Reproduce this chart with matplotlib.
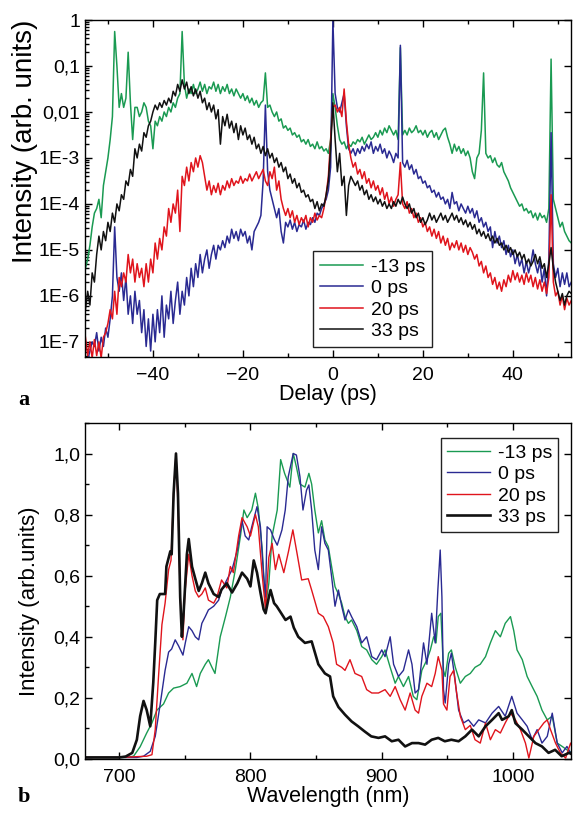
import numpy as np
import matplotlib
matplotlib.use("Agg")
import matplotlib.pyplot as plt
from matplotlib.ticker import FixedLocator, FixedFormatter, MultipleLocator, LogLocator, NullFormatter

plt.rcParams['font.family'] = ['Liberation Sans', 'DejaVu Sans']
plt.rcParams['font.size'] = 14

labels = ['-13 ps', '0 ps', '20 ps', '33 ps']
colors = ['#1a9a52', '#2a2a92', '#e0141c', '#111111']

# ---- panel a: delay scan, log10 of intensity on a 0.5 ps grid from -55 to 53 ps
delay = np.arange(-55, 53.01, 0.5)

log_m13 = [
    -5.4, -5.2, -4.9, -4.5, -4.2, -4.1, -3.9, -4.3, -3.6, -3.3,
    -3.0, -2.6, -2.1, -0.25, -1.0, -1.9, -1.6, -1.9, -1.7, -0.7,
    -1.8, -2.6, -1.9, -1.9, -2.1, -2.0, -1.8, -1.9, -2.2, -2.3,
    -2.8, -2.2, -2.3, -2.1, -2.2, -2.0, -2.1, -1.9, -2.0, -1.8,
    -1.9, -1.7, -1.6, -0.25, -1.4, -1.7, -1.5, -1.6, -1.4, -1.6,
    -1.5, -1.35, -1.55, -1.4, -1.6, -1.45, -1.5, -1.35, -1.55, -1.4,
    -1.6, -1.45, -1.55, -1.4, -1.6, -1.5, -1.65, -1.5, -1.6, -1.7,
    -1.6, -1.75, -1.65, -1.8, -1.7, -1.85, -1.75, -1.9, -1.8, -1.75,
    -1.15, -1.9, -1.85, -2.0, -2.1, -2.0, -2.2, -2.15, -2.35, -2.3,
    -2.4, -2.35, -2.5, -2.45, -2.55, -2.5, -2.65, -2.6, -2.7, -2.6,
    -2.75, -2.7, -2.8, -2.65, -2.8, -2.75, -2.85, -2.8, -2.9, -2.6,
    -1.6, -1.9, -2.3, -2.6, -2.7, -2.65, -2.8, -2.7, -2.75, -2.65,
    -2.7, -2.6, -2.65, -2.55, -2.7, -2.6, -2.5, -2.6, -2.55, -2.45,
    -2.55, -2.4, -2.5, -2.35, -2.45, -2.3, -2.4, -2.5, -2.4, -2.6,
    -0.6, -2.5, -2.4, -2.5, -2.35, -2.45, -2.4, -2.3, -2.45, -2.4,
    -2.5, -2.4, -2.55, -2.45, -2.4, -2.55, -2.45, -2.6, -2.5, -2.4,
    -2.35, -2.55, -2.7, -2.9, -2.7, -2.85, -2.75, -2.9, -2.8, -2.95,
    -2.85, -3.0, -3.3, -3.45, -3.0, -2.9, -2.4, -1.15, -2.9, -3.0,
    -2.95, -3.1, -3.0, -3.15, -3.2, -3.1, -3.3, -3.4, -3.5, -3.65,
    -3.75, -3.85, -3.95, -4.05, -4.0, -4.15, -4.1, -4.2, -4.15, -4.3,
    -4.2, -4.35, -4.2, -4.3, -4.25, -4.4, -4.1, -0.85, -3.9, -4.1,
    -4.3, -4.5, -4.4, -4.6, -4.7, -4.8, -4.85,
]

log_0 = [
    -7.5, -7.4, -7.2, -7.0, -7.1, -6.8, -7.2, -6.9, -7.1, -6.7,
    -6.9, -6.5, -6.0, -4.5, -5.6, -5.9, -5.5, -6.1, -5.6, -6.4,
    -6.0, -6.6, -5.9, -6.4, -6.1, -6.8, -6.3, -7.1, -6.5, -7.2,
    -6.4, -7.0, -6.3, -6.8, -6.0, -6.9, -6.2, -6.5, -5.9, -6.6,
    -6.1, -5.7, -6.4, -5.9, -6.2, -5.6, -6.0, -5.4, -5.8, -5.3,
    -5.6, -5.1, -5.5, -5.2, -5.0, -5.4, -5.1, -4.9, -5.2, -4.9,
    -5.0, -4.8, -4.95, -4.7, -4.85, -4.55, -4.75, -4.6, -4.8, -4.55,
    -4.7, -4.6, -4.85, -4.7, -5.0, -4.6, -4.5, -4.4, -4.25, -3.5,
    -1.85, -3.3, -3.7, -3.9, -4.1, -4.3, -4.1, -4.6, -4.85, -4.4,
    -4.5, -4.35, -4.55, -4.4, -4.6, -4.45, -4.5, -4.35, -4.55, -4.4,
    -4.45, -4.3, -4.4, -4.2, -4.25, -4.1, -4.0, -3.9, -3.7, -3.2,
    0.0, -1.6, -1.9, -2.0, -1.8, -1.6, -2.3, -2.8, -2.9, -2.8,
    -2.95, -2.8, -2.9, -2.75, -2.85, -2.7, -2.8, -2.65, -2.9, -2.75,
    -2.85, -2.7, -2.9, -2.8, -3.0, -2.85, -2.95, -3.1, -2.9, -3.0,
    -0.55, -3.1, -3.2, -3.05, -3.25, -3.15, -3.35, -3.25, -3.45, -3.4,
    -3.55, -3.5, -3.65, -3.6, -3.75, -3.7, -3.85, -3.75, -3.9, -3.85,
    -4.0, -3.9, -4.1, -3.75, -4.0, -3.95, -4.15, -4.0, -4.1, -4.2,
    -4.05, -4.2, -4.1, -4.3, -4.15, -4.4, -4.3, -4.5, -4.4, -4.6,
    -4.5, -4.95, -4.6, -4.85, -4.7, -4.95, -4.8, -5.1, -4.9, -5.15,
    -5.0, -5.3, -5.1, -5.35, -5.2, -5.5, -5.25, -5.5, -5.3, -5.0,
    -5.3, -5.5, -5.25, -5.7, -5.4, -6.0, -5.2, -2.45, -5.3, -5.6,
    -5.4, -5.8, -5.5, -5.75, -5.5, -5.8, -5.7,
]

log_20 = [
    -6.9, -7.3, -7.0, -7.35, -6.95, -7.3, -7.0, -7.35, -6.9, -6.8,
    -6.6, -6.3, -6.5, -5.9, -6.4, -5.6, -5.8, -5.5, -5.7, -5.1,
    -5.5, -5.2, -5.7, -5.3, -5.6, -5.4, -5.8, -5.3, -5.7, -5.2,
    -5.5, -4.85, -5.2, -4.75, -5.0, -4.5, -4.7, -4.1, -4.4, -4.0,
    -4.2, -3.7, -4.6, -3.4, -3.6, -3.2, -3.5, -3.1, -3.3, -3.0,
    -3.2, -2.95, -3.1, -3.4, -3.7, -3.5, -3.8, -3.6, -3.75, -3.55,
    -3.8, -3.6, -3.7, -3.5, -3.65, -3.45, -3.6, -3.5, -3.55, -3.4,
    -3.55, -3.45, -3.5, -3.35, -3.5, -3.4, -3.3, -3.45, -3.35, -3.25,
    -3.5, -3.6, -3.3, -3.45, -3.2, -3.7, -3.5, -3.9, -4.1, -4.25,
    -4.1, -4.3, -4.15, -4.4, -4.25, -4.45, -4.3, -4.4, -4.25, -4.5,
    -4.3, -4.4, -4.2, -4.35, -4.25, -4.3, -4.1, -3.8, -3.4, -2.6,
    -1.9, -1.85, -2.0, -1.9, -2.1, -1.5, -2.2, -2.7, -3.0, -3.2,
    -3.1, -3.35, -3.25, -3.45, -3.3, -3.55, -3.45, -3.65, -3.5, -3.7,
    -3.6, -3.8, -3.65, -3.9, -3.75, -4.0, -3.85, -4.05, -3.9, -3.8,
    -3.1, -4.0, -4.1, -3.95, -4.2, -4.1, -4.3, -4.2, -4.4, -4.3,
    -4.5, -4.4, -4.6, -4.5, -4.7, -4.55, -4.75, -4.6, -4.85, -4.7,
    -4.9, -4.75, -5.0, -4.85, -4.95, -4.8, -5.0, -4.85, -5.05, -4.9,
    -5.1, -4.95, -5.05, -5.2, -5.1, -5.35, -5.25, -5.5, -5.35, -5.6,
    -5.5, -5.75, -5.6, -5.85, -5.7, -5.9, -5.65, -5.8, -5.55, -5.7,
    -5.45, -5.65, -5.5, -5.7, -5.55, -5.75, -5.5, -5.7, -5.55, -5.8,
    -5.6, -5.85, -5.65, -5.9, -5.7, -5.95, -5.6, -3.8, -5.7, -6.0,
    -5.9, -6.2, -6.0, -6.3, -6.05, -6.2, -6.1,
]

log_33 = [
    -6.3, -5.9, -6.2, -5.5, -5.7, -5.1, -4.7, -5.0, -4.6, -4.8,
    -4.4, -4.6, -4.2, -4.4, -4.0, -4.15, -3.8, -3.9, -3.5, -3.6,
    -3.25, -3.4, -2.8, -3.0, -2.7, -2.85, -2.45, -2.55, -2.3, -2.2,
    -2.0, -1.85, -1.95, -1.8, -1.9, -1.75, -1.85, -1.7, -1.8, -1.55,
    -1.65, -1.4, -1.55, -1.3, -1.5, -1.35, -1.6, -1.45, -1.65, -1.5,
    -1.7, -1.55, -1.8, -1.7, -1.95, -1.8, -2.0, -1.85, -2.15, -1.95,
    -2.7, -2.1, -2.3, -2.05, -2.35, -2.2, -2.45, -2.25, -2.6, -2.3,
    -2.5, -2.35, -2.6, -2.5, -2.7, -2.55, -2.8, -2.7, -2.9, -2.75,
    -2.95, -2.8, -3.0, -2.9, -3.1, -3.0, -3.2, -3.1, -3.3, -3.2,
    -3.45, -3.35, -3.55, -3.45, -3.65, -3.55, -3.75, -3.7, -3.85, -3.8,
    -3.95, -3.9, -4.1, -3.95, -4.15, -4.0, -4.05, -3.8, -3.5, -2.8,
    -1.8, -2.6, -3.3, -2.9, -3.6, -3.4, -4.25, -3.6, -3.4, -3.5,
    -3.6, -3.5, -3.7, -3.6, -3.8, -3.7, -3.9, -3.8, -3.95, -3.85,
    -4.0, -3.9, -4.05, -3.95, -4.1, -4.0, -4.1, -3.95, -4.05, -3.9,
    -4.0, -3.85, -4.0, -4.1, -4.0, -4.2, -4.1, -4.3, -4.2, -4.4,
    -4.3, -4.45, -4.35, -4.2, -4.35, -4.25, -4.4, -4.3, -4.2, -4.35,
    -4.25, -4.4, -4.3, -4.2, -4.35, -4.25, -4.4, -4.3, -4.45, -4.35,
    -4.5, -4.4, -4.55, -4.45, -4.65, -4.55, -4.7, -4.6, -4.75, -4.65,
    -4.8, -4.7, -4.85, -4.75, -4.9, -4.85, -5.0, -4.9, -5.05, -4.95,
    -5.1, -5.0, -5.15, -5.05, -5.2, -5.1, -5.3, -5.2, -5.35, -5.25,
    -5.1, -5.3, -5.15, -5.4, -5.3, -5.6, -5.3, -4.95, -5.4, -5.7,
    -5.9, -6.1, -5.95, -6.2, -6.0, -5.9, -5.95,
]

# ---- panel b: spectra (wavelength in nm, normalised intensity)
wl_m13 = [675, 705, 711, 716, 721, 725, 728.8, 733.8, 737.7, 741.5, 746.5, 751.6, 755.5, 759, 761.8,
          765.6, 768, 770.7, 773, 777, 781, 784.7, 788.5, 792.4, 795, 797.5, 801, 803.8, 806, 809,
          811.5, 814, 816.5, 820.4, 823, 826, 830, 832.6, 835, 837.7, 841.5, 844.5, 846.6, 849,
          851.7, 854.2, 856.7, 859.3, 861.8, 864.4, 867, 869.5, 872, 874.6, 877, 881, 884.7, 888.5,
          892.4, 896, 900, 902.5, 906.4, 910.2, 912.7, 916.5, 920.4, 924, 926.7, 930.5, 934.4, 937,
          939.5, 941.3, 943, 945, 947, 948.3, 950.9, 953, 956, 959.8, 963.6, 967.4, 971, 975, 979,
          982.7, 986.5, 990.3, 994, 998, 1000.5, 1003, 1007, 1010.7, 1014.5, 1018.3, 1022, 1026,
          1029.8, 1033.6, 1037.4, 1041, 1045]
int_m13 = [0.005, 0.005, 0.009, 0.04, 0.085, 0.118, 0.16, 0.18, 0.216, 0.232, 0.237, 0.248, 0.28, 0.237, 0.28,
           0.31, 0.325, 0.30, 0.28, 0.40, 0.466, 0.53, 0.62, 0.73, 0.815, 0.79, 0.815, 0.87, 0.82, 0.684,
           0.50, 0.575, 0.73, 0.815, 0.98, 0.935, 0.89, 1.0, 0.956, 0.90, 0.89, 0.935, 0.90, 0.815,
           0.74, 0.78, 0.717, 0.695, 0.63, 0.564, 0.54, 0.51, 0.466, 0.444, 0.455, 0.42, 0.368, 0.357,
           0.325, 0.31, 0.335, 0.357, 0.30, 0.248, 0.27, 0.237, 0.27, 0.205, 0.194, 0.29, 0.325, 0.357,
           0.40, 0.38, 0.466, 0.477, 0.29, 0.27, 0.346, 0.357, 0.30, 0.248, 0.27, 0.28, 0.30, 0.31, 0.335,
           0.38, 0.42, 0.40, 0.444, 0.466, 0.42, 0.357, 0.325, 0.27, 0.237, 0.205, 0.16, 0.128,
           0.14, 0.052, 0.041, 0.03, 0.02]

wl_0 = [675, 700, 713.5, 718.6, 723.7, 727.5, 731.3, 735, 737.7, 740, 742.7, 745.3, 748.6, 750.4, 753,
        755.5, 758, 760.6, 763, 765.6, 768, 772, 775.8, 778, 782, 786, 790, 793.6, 796, 798.7, 801,
        805, 807.6, 810, 811.5, 812.7, 815.3, 818, 820.4, 824, 826.5, 828.8, 832.6, 835, 837.7, 840,
        842.7, 844.5, 846.6, 849, 851.7, 854.2, 856.7, 859.3, 861.8, 864.4, 867, 869.5, 872, 874.6,
        877, 881, 884.7, 888.5, 892.4, 896, 900, 902.5, 906.4, 909, 912.7, 916.5, 920.4, 923, 925.4,
        928, 931.8, 934.4, 938, 940.7, 942.7, 944.5, 945.8, 947, 948.3, 950.9, 953, 955.5, 958.5,
        962.3, 966, 970, 973.8, 979, 984, 989, 994, 999, 1003, 1007, 1010.7, 1014.5, 1018.3, 1022,
        1026, 1029.8, 1033.6, 1037.4, 1041, 1045]
int_0 = [0.005, 0.005, 0.005, 0.009, 0.025, 0.074, 0.18, 0.29, 0.35, 0.36, 0.39, 0.37, 0.34, 0.38, 0.433,
         0.42, 0.40, 0.39, 0.444, 0.466, 0.488, 0.50, 0.52, 0.553, 0.586, 0.62, 0.684, 0.78, 0.73, 0.717, 0.76,
         0.826, 0.76, 0.60, 0.53, 0.76, 0.75, 0.72, 0.70, 0.75, 0.815, 0.924, 1.0, 0.995, 0.924, 0.815,
         0.88, 0.897, 0.815, 0.684, 0.62, 0.76, 0.706, 0.684, 0.597, 0.50, 0.553, 0.50, 0.455, 0.488,
         0.466, 0.433, 0.38, 0.40, 0.335, 0.325, 0.357, 0.335, 0.40, 0.31, 0.27, 0.29, 0.357, 0.31, 0.216,
         0.227, 0.38, 0.31, 0.477, 0.38, 0.553, 0.684, 0.53, 0.227, 0.183, 0.31, 0.346, 0.27, 0.16,
         0.118, 0.128, 0.107, 0.128, 0.118, 0.15, 0.172, 0.14, 0.205, 0.15, 0.128, 0.107, 0.063, 0.096, 0.052,
         0.074, 0.15, 0.052, 0.02, 0.041, 0.01]

wl_20 = [675, 700, 721, 725, 727.5, 730, 732.6, 735, 737.7, 739.5, 741.5, 743.3, 745, 746.5, 748.6, 750,
         753, 755.5, 758, 760.6, 763, 765.6, 768, 772, 774.5, 778, 782, 784.7, 787, 791, 793.6, 797.5,
         800, 803.8, 806, 809, 811.5, 814, 816.5, 819, 821.6, 825.4, 829, 832.3, 835.6, 839, 844, 846.6,
         851.7, 855.5, 859.3, 863, 865.6, 869.5, 872, 875.8, 879.6, 884.7, 888.5, 892.4, 897.5, 902.5,
         906.4, 910.2, 914, 917.8, 921.6, 925.4, 928, 930.5, 934.4, 938, 940.7, 943, 945.8, 947, 949.6,
         952, 954.7, 957, 959.8, 963.6, 967.4, 971, 975, 979, 982.7, 986.5, 990.3, 994, 998, 1001.8,
         1005.6, 1009.4, 1012, 1015.8, 1019.6, 1023.4, 1026, 1028.5, 1032.3, 1036, 1040, 1043.8, 1045]
int_20 = [0.005, 0.005, 0.009, 0.014, 0.096, 0.27, 0.44, 0.51, 0.62, 0.65, 0.87, 1.0, 0.81, 0.53, 0.39, 0.54,
          0.67, 0.60, 0.55, 0.53, 0.54, 0.56, 0.52, 0.51, 0.53, 0.586, 0.56, 0.63, 0.61, 0.73, 0.79, 0.76,
          0.73, 0.80, 0.76, 0.60, 0.49, 0.66, 0.706, 0.62, 0.67, 0.61, 0.68, 0.75, 0.67, 0.586, 0.59, 0.553,
          0.477, 0.466, 0.433, 0.38, 0.31, 0.30, 0.29, 0.325, 0.28, 0.27, 0.227, 0.216, 0.216, 0.227,
          0.205, 0.237, 0.194, 0.16, 0.216, 0.16, 0.15, 0.205, 0.248, 0.237, 0.28, 0.335, 0.29, 0.18, 0.16,
          0.27, 0.29, 0.216, 0.14, 0.096, 0.11, 0.063, 0.052, 0.118, 0.063, 0.096, 0.085, 0.118, 0.15, 0.128,
          0.096, 0.052, 0.003, 0.074, 0.096, 0.118, 0.128, 0.096, 0.052, 0.02, 0.003, 0.052, 0.04]

wl_33 = [675, 700, 705, 710, 713.5, 716, 718.6, 721, 723.7, 726, 727.5, 729, 731, 735, 736, 739, 740,
         741.5, 743.3, 744.8, 746.5, 747.8, 749, 751.6, 753, 755.5, 758, 760.6, 763, 765.6, 768, 772,
         775.8, 778, 782, 786, 790, 793.6, 797.5, 800, 802.5, 805, 807.6, 810, 811.5, 814, 815.3, 818,
         820, 823, 826.7, 830.5, 833, 836.4, 841.5, 846.6, 851.7, 856.7, 860.6, 863, 867, 872, 877,
         882, 887, 892, 897.5, 902.5, 907.6, 912.7, 917.8, 923, 928, 933, 938, 943, 948, 953, 958.5,
         963.6, 968.7, 973.8, 979, 984, 989, 991.6, 996.7, 999, 1001.8, 1007, 1012, 1017, 1022, 1027,
         1032, 1037, 1042.5, 1045]
int_33 = [0.005, 0.005, 0.008, 0.02, 0.063, 0.14, 0.19, 0.16, 0.107, 0.25, 0.38, 0.52, 0.54, 0.54, 0.63, 0.68, 0.67,
          0.87, 1.0, 0.87, 0.53, 0.40, 0.47, 0.67, 0.72, 0.63, 0.59, 0.55, 0.575, 0.61, 0.575, 0.54,
          0.53, 0.555, 0.575, 0.545, 0.575, 0.61, 0.59, 0.565, 0.65, 0.61, 0.545, 0.49, 0.477, 0.53, 0.553, 0.51,
          0.50, 0.48, 0.455, 0.466, 0.43, 0.40, 0.38, 0.385, 0.31, 0.28, 0.27, 0.205, 0.17, 0.145, 0.123,
          0.107, 0.09, 0.074, 0.069, 0.074, 0.058, 0.063, 0.041, 0.052, 0.052, 0.047, 0.063, 0.069, 0.058, 0.063,
          0.058, 0.074, 0.096, 0.074, 0.107, 0.128, 0.15, 0.128, 0.14, 0.16, 0.117, 0.096, 0.074, 0.052, 0.041,
          0.02, 0.03, 0.009, 0.02, 0.015]

fig = plt.figure(figsize=(5.73, 8.14), dpi=100)
ax1 = fig.add_axes([0.1483, 0.5614, 0.848, 0.414])
ax2 = fig.add_axes([0.1483, 0.0676, 0.848, 0.4128])

# panel a
for vals, c, lab in zip([log_m13, log_0, log_20, log_33], colors, labels):
    ax1.plot(delay, 10 ** np.array(vals), color=c, lw=1.1, label=lab)
ax1.set_yscale('log')
ax1.set_xlim(-55.1, 52.9)
ax1.set_ylim(10 ** -7.33, 1)
ax1.yaxis.set_major_locator(FixedLocator([10.0 ** -k for k in range(8)]))
ax1.yaxis.set_major_formatter(FixedFormatter(['1', '0,1', '0,01', '1E-3', '1E-4', '1E-5', '1E-6', '1E-7']))
ax1.yaxis.set_minor_locator(LogLocator(base=10, subs=np.arange(2, 10), numticks=20))
ax1.yaxis.set_minor_formatter(NullFormatter())
ax1.xaxis.set_major_locator(MultipleLocator(20))
ax1.xaxis.set_minor_locator(MultipleLocator(10))
ax1.set_xlabel('Delay (ps)', fontsize=15.5, labelpad=0)
ax1.set_ylabel('Intensity (arb. units)', fontsize=20)
ax1.yaxis.set_label_coords(-0.097, 0.64)
ax1.tick_params(which='both', direction='in', top=True, right=True, width=1)
ax1.tick_params(which='major', length=5)
ax1.tick_params(which='minor', length=3)
ax1.tick_params(axis='x', pad=7)
ax1.tick_params(axis='y', which='minor', right=False)
leg1 = ax1.legend(loc='lower left', bbox_to_anchor=(0.469, 0.03), borderaxespad=0,
                  handlelength=2.25, labelspacing=0.2, handletextpad=0.4, borderpad=0.35,
                  fancybox=False, framealpha=1, edgecolor='#222222')
leg1.get_frame().set_linewidth(1.0)

# panel b
for w, v, c, lab in zip([wl_m13, wl_0, wl_20, wl_33], [int_m13, int_0, int_20, int_33], colors, labels):
    ax2.plot(w, v, color=c, lw=1.9 if lab == '33 ps' else 1.0, label=lab)
ax2.set_xlim(674, 1044)
ax2.set_ylim(0, 1.1)
ax2.xaxis.set_major_locator(MultipleLocator(100))
ax2.xaxis.set_minor_locator(MultipleLocator(50))
ax2.yaxis.set_major_locator(MultipleLocator(0.2))
ax2.yaxis.set_minor_locator(MultipleLocator(0.1))
ax2.yaxis.set_major_formatter(plt.FuncFormatter(lambda v, p: f'{v:.1f}'.replace('.', ',')))
ax2.set_xlabel('Wavelength (nm)', fontsize=15.5, labelpad=0)
ax2.set_ylabel('Intensity (arb.units)', fontsize=16)
ax2.yaxis.set_label_coords(-0.093, 0.47)
ax2.tick_params(which='both', direction='in', top=True, right=True, width=1)
ax2.tick_params(which='major', length=5)
ax2.tick_params(which='minor', length=3)
ax2.tick_params(axis='x', pad=7)
ax2.tick_params(axis='y', which='minor', right=False)
leg2 = ax2.legend(loc='upper left', bbox_to_anchor=(0.7325, 0.955), borderaxespad=0,
                  handlelength=2.25, labelspacing=0.2, handletextpad=0.4, borderpad=0.3,
                  fancybox=False, framealpha=1, edgecolor='#222222')
leg2.get_frame().set_linewidth(1.0)

for ax in (ax1, ax2):
    for s in ax.spines.values():
        s.set_linewidth(1.0)

fig.text(18 / 573, 1 - 400 / 814, 'a', fontweight='bold', family='Liberation Serif', fontsize=16, va='center')
fig.text(18 / 573, 1 - 797 / 814, 'b', fontweight='bold', family='Liberation Serif', fontsize=16, va='center')

fig.savefig('out.png', dpi=100)
